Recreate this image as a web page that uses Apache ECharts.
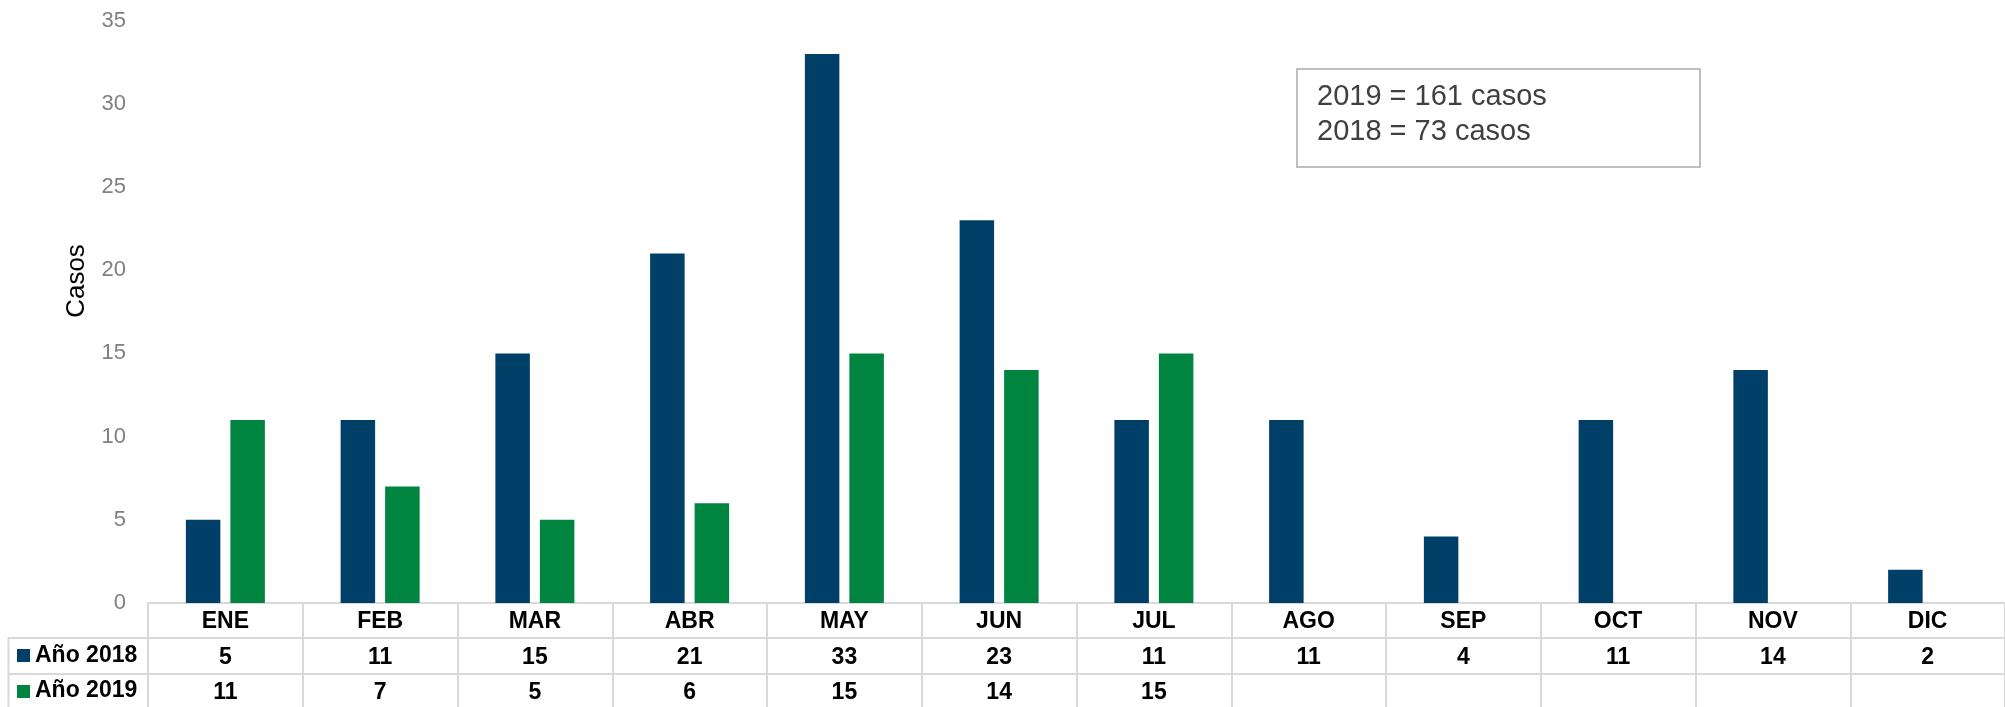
<!DOCTYPE html>
<html>
<head>
<meta charset="utf-8">
<script src="https://cdn.jsdelivr.net/npm/echarts@6/dist/echarts.min.js"></script>
<style>
  html, body { margin: 0; padding: 0; background: #fff; }
  #chart { width: 2005px; height: 707px; }
</style>
</head>
<body>
<div id="chart"></div>
<script>
// datos
var meses = ['ENE', 'FEB', 'MAR', 'ABR', 'MAY', 'JUN', 'JUL', 'AGO', 'SEP', 'OCT', 'NOV', 'DIC'];
var casos2018 = [5, 11, 15, 21, 33, 23, 11, 11, 4, 11, 14, 2];
var casos2019 = [11, 7, 5, 6, 15, 14, 15, null, null, null, null, null];
var nombresSeries = ['Año 2018', 'Año 2019'];
var coloresSeries = ['#004068', '#008540'];
var notaTotales = ['2019 = 161 casos', '2018 = 73 casos'];
var tituloEjeY = 'Casos';

var fuente = "'Liberation Sans', Arial, sans-serif";
var colorBorde = '#d9d9d9';

var chart = echarts.init(document.getElementById('chart'));

// tabla debajo del eje: mes / 2018 / 2019 en una sola etiqueta
function etiquetaTabla(valor, idx) {
	var a = casos2018[idx] == null ? ' ' : casos2018[idx];
	var b = casos2019[idx] == null ? ' ' : casos2019[idx];
	return '{m|' + valor + '}\n{v|' + a + '}\n{v|' + b + '}';
}

var option = {
	animation: false,
	textStyle: { fontFamily: fuente },
	grid: {
		left: 148,
		top: 20.6,
		width: 1865.4,
		height: 582.4
	},
	xAxis: {
		type: 'category',
		data: meses,
		axisLine: { show: true, lineStyle: { color: colorBorde, width: 2 } },
		axisTick: {
			show: true,
			interval: 0,
			length: 110,
			lineStyle: { color: colorBorde, width: 2 }
		},
		axisLabel: {
			interval: 0,
			margin: 1.5,
			formatter: etiquetaTabla,
			rich: {
				m: { fontSize: 23, fontWeight: 'bold', color: '#000', lineHeight: 35, fontFamily: fuente },
				v: { fontSize: 23, fontWeight: 'bold', color: '#000', lineHeight: 35.5, fontFamily: fuente }
			}
		}
	},
	yAxis: {
		type: 'value',
		min: 0,
		max: 35,
		interval: 5,
		axisLine: { show: false },
		axisTick: { show: false },
		splitLine: { show: false },
		axisLabel: { color: '#808080', fontSize: 22, margin: 22, fontFamily: fuente }
	},
	series: [
		{
			name: nombresSeries[0],
			type: 'bar',
			data: casos2018,
			barWidth: 34.5,
			barGap: '29%',
			itemStyle: { color: coloresSeries[0] }
		},
		{
			name: nombresSeries[1],
			type: 'bar',
			data: casos2019,
			barWidth: 34.5,
			itemStyle: { color: coloresSeries[1] }
		}
	],
	graphic: [
		// lineas de la tabla
		{ type: 'line', shape: { x1: 8, y1: 638, x2: 2005, y2: 638 }, style: { stroke: colorBorde, lineWidth: 2 } },
		{ type: 'line', shape: { x1: 8, y1: 674, x2: 2005, y2: 674 }, style: { stroke: colorBorde, lineWidth: 2 } },
		{ type: 'line', shape: { x1: 8.5, y1: 637, x2: 8.5, y2: 707 }, style: { stroke: colorBorde, lineWidth: 2 } },
		// leyenda de filas
		{ type: 'rect', shape: { x: 17, y: 649, width: 13, height: 13 }, style: { fill: coloresSeries[0] } },
		{ type: 'text', x: 35, y: 656, style: { text: nombresSeries[0], font: 'bold 23px ' + fuente, fill: '#000', verticalAlign: 'middle' } },
		{ type: 'rect', shape: { x: 17, y: 685, width: 13, height: 13 }, style: { fill: coloresSeries[1] } },
		{ type: 'text', x: 35, y: 691, style: { text: nombresSeries[1], font: 'bold 23px ' + fuente, fill: '#000', verticalAlign: 'middle' } },
		// titulo del eje Y
		{
			type: 'text', x: 77, y: 281, rotation: Math.PI / 2,
			style: { text: tituloEjeY, font: '26px ' + fuente, fill: '#000', align: 'center', verticalAlign: 'middle' }
		},
		// cuadro de totales
		{ type: 'rect', shape: { x: 1297, y: 69, width: 403, height: 98 }, style: { fill: '#fff', stroke: '#bfbfbf', lineWidth: 2 } },
		{ type: 'text', x: 1317, y: 97, style: { text: notaTotales[0], font: '29px ' + fuente, fill: '#404040', verticalAlign: 'middle' } },
		{ type: 'text', x: 1317, y: 132, style: { text: notaTotales[1], font: '29px ' + fuente, fill: '#404040', verticalAlign: 'middle' } }
	]
};

chart.setOption(option);

window.onresize = function() {
	chart.resize();
};
</script>
</body>
</html>
